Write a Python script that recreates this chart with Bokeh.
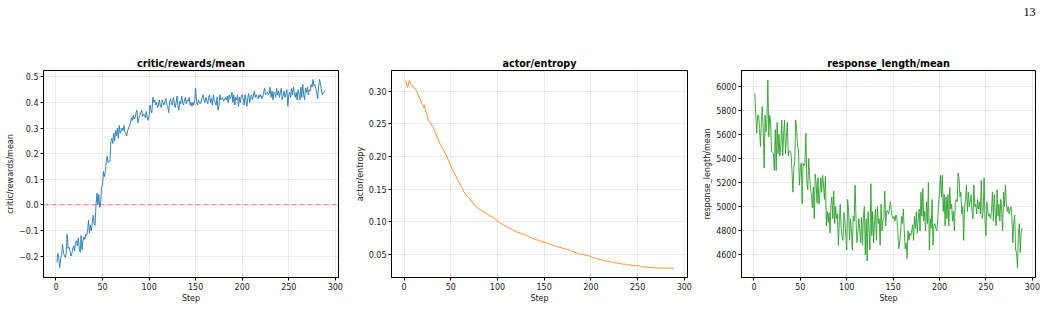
from bokeh.plotting import figure
from bokeh.layouts import row, column
from bokeh.models import Range1d, FixedTicker, Span
from bokeh.core.properties import value
from bokeh.embed import file_html
from bokeh.resources import INLINE

steps = list(range(1, 290))

rewards_mean = [
    -0.225, -0.19, -0.205, -0.245, -0.21, -0.195, -0.155, -0.185, -0.2, -0.205,
    -0.19, -0.115, -0.17, -0.165, -0.18, -0.2, -0.19, -0.17, -0.16, -0.18,
    -0.15, -0.14, -0.16, -0.13, -0.17, -0.185, -0.12, -0.175, -0.14, -0.125,
    -0.135, -0.115, -0.12, -0.1, -0.06, -0.11, -0.08, -0.1, -0.07, -0.04,
    -0.075, -0.08, 0.0, 0.045, 0.0, 0.04, -0.01, 0.01, 0.07, 0.075,
    0.13, 0.11, 0.13, 0.17, 0.19, 0.165, 0.17, 0.17, 0.25, 0.26,
    0.24, 0.28, 0.25, 0.29, 0.27, 0.3, 0.26, 0.31, 0.28, 0.29,
    0.3, 0.29, 0.31, 0.285, 0.28, 0.27, 0.29, 0.3, 0.31, 0.32,
    0.34, 0.33, 0.35, 0.335, 0.34, 0.36, 0.37, 0.32, 0.34, 0.35,
    0.36, 0.37, 0.345, 0.355, 0.35, 0.34, 0.365, 0.34, 0.33, 0.35,
    0.39, 0.37, 0.36, 0.42, 0.40, 0.41, 0.39, 0.40, 0.38, 0.39,
    0.41, 0.385, 0.38, 0.41, 0.40, 0.39, 0.405, 0.415, 0.39, 0.385,
    0.36, 0.40, 0.415, 0.395, 0.39, 0.42, 0.40, 0.38, 0.40, 0.425,
    0.385, 0.37, 0.405, 0.395, 0.425, 0.40, 0.39, 0.41, 0.42, 0.395,
    0.41, 0.405, 0.42, 0.39, 0.40, 0.385, 0.40, 0.39, 0.41, 0.455,
    0.40, 0.39, 0.41, 0.40, 0.395, 0.405, 0.42, 0.43, 0.41, 0.40,
    0.42, 0.405, 0.395, 0.42, 0.43, 0.40, 0.415, 0.39, 0.43, 0.41,
    0.40, 0.39, 0.42, 0.37, 0.385, 0.43, 0.41, 0.415, 0.42, 0.405,
    0.41, 0.42, 0.41, 0.425, 0.40, 0.43, 0.415, 0.42, 0.44, 0.40,
    0.43, 0.39, 0.42, 0.41, 0.43, 0.385, 0.42, 0.40, 0.425, 0.43,
    0.415, 0.39, 0.43, 0.41, 0.385, 0.42, 0.435, 0.40, 0.42, 0.43,
    0.41, 0.425, 0.445, 0.42, 0.43, 0.42, 0.415, 0.43, 0.42, 0.43,
    0.415, 0.42, 0.44, 0.455, 0.43, 0.435, 0.44, 0.43, 0.435, 0.46,
    0.42, 0.445, 0.41, 0.44, 0.435, 0.42, 0.455, 0.43, 0.445, 0.42,
    0.44, 0.455, 0.41, 0.43, 0.445, 0.42, 0.435, 0.45, 0.385, 0.43,
    0.44, 0.42, 0.455, 0.43, 0.46, 0.44, 0.42, 0.44, 0.41, 0.45,
    0.43, 0.41, 0.46, 0.42, 0.47, 0.43, 0.41, 0.455, 0.44, 0.46,
    0.43, 0.45, 0.445, 0.47, 0.46, 0.49, 0.465, 0.47, 0.455, 0.44,
    0.415, 0.46, 0.49, 0.475, 0.45, 0.43, 0.44, 0.44, 0.445,
]

actor_entropy = [
    0.316, 0.315, 0.309, 0.306, 0.313, 0.316, 0.311, 0.310, 0.308, 0.306,
    0.305, 0.303, 0.301, 0.298, 0.294, 0.291, 0.288, 0.285, 0.281, 0.279,
    0.275, 0.278, 0.270, 0.266, 0.262, 0.256, 0.253, 0.252, 0.250, 0.247,
    0.245, 0.242, 0.238, 0.235, 0.231, 0.227, 0.225, 0.221, 0.218, 0.215,
    0.212, 0.210, 0.208, 0.205, 0.202, 0.199, 0.196, 0.193, 0.189, 0.185,
    0.182, 0.180, 0.177, 0.174, 0.171, 0.168, 0.165, 0.163, 0.160, 0.157,
    0.154, 0.152, 0.149, 0.146, 0.144, 0.142, 0.140, 0.138, 0.137, 0.135,
    0.134, 0.132, 0.130, 0.128, 0.127, 0.125, 0.123, 0.122, 0.121, 0.120,
    0.119, 0.118, 0.117, 0.116, 0.115, 0.115, 0.114, 0.113, 0.112, 0.111,
    0.110, 0.109, 0.108, 0.108, 0.107, 0.106, 0.105, 0.104, 0.102, 0.101,
    0.100, 0.099, 0.098, 0.097, 0.097, 0.096, 0.095, 0.094, 0.093, 0.092,
    0.092, 0.091, 0.090, 0.090, 0.089, 0.088, 0.087, 0.086, 0.086, 0.085,
    0.084, 0.084, 0.083, 0.083, 0.082, 0.082, 0.081, 0.081, 0.080, 0.080,
    0.079, 0.078, 0.078, 0.077, 0.076, 0.076, 0.075, 0.074, 0.074, 0.073,
    0.073, 0.072, 0.072, 0.071, 0.071, 0.070, 0.070, 0.069, 0.069, 0.069,
    0.068, 0.068, 0.067, 0.067, 0.066, 0.066, 0.065, 0.065, 0.064, 0.064,
    0.063, 0.063, 0.062, 0.062, 0.061, 0.061, 0.061, 0.060, 0.060, 0.059,
    0.059, 0.059, 0.058, 0.058, 0.057, 0.057, 0.056, 0.056, 0.055, 0.055,
    0.054, 0.054, 0.053, 0.053, 0.052, 0.052, 0.051, 0.051, 0.050, 0.050,
    0.050, 0.050, 0.049, 0.049, 0.049, 0.048, 0.048, 0.048, 0.047, 0.047,
    0.046, 0.045, 0.045, 0.044, 0.044, 0.044, 0.043, 0.043, 0.043, 0.042,
    0.042, 0.041, 0.041, 0.041, 0.040, 0.040, 0.040, 0.039, 0.039, 0.039,
    0.038, 0.038, 0.038, 0.038, 0.037, 0.037, 0.037, 0.037, 0.036, 0.036,
    0.036, 0.036, 0.035, 0.035, 0.035, 0.035, 0.035, 0.034, 0.034, 0.034,
    0.034, 0.034, 0.033, 0.033, 0.033, 0.033, 0.033, 0.033, 0.032, 0.032,
    0.033, 0.032, 0.032, 0.031, 0.031, 0.031, 0.031, 0.031, 0.031, 0.030,
    0.030, 0.030, 0.030, 0.030, 0.030, 0.030, 0.029, 0.030, 0.029, 0.029,
    0.029, 0.029, 0.029, 0.029, 0.029, 0.029, 0.029, 0.029, 0.029, 0.029,
    0.029, 0.029, 0.029, 0.029, 0.029, 0.028, 0.029, 0.028, 0.028,
]

response_length_mean = [
    5940, 5760, 5610, 5760, 5760, 5650, 5500, 5700, 5830, 5650,
    5320, 5760, 5620, 5700, 6050, 5580, 5760, 5700, 5460, 5450,
    5440, 5300, 5640, 5300, 5700, 5440, 5600, 5420, 5520, 5720,
    5420, 5600, 5720, 5440, 5580, 5700, 5420, 5460, 5460, 5440,
    5300, 5120, 5320, 5380, 5720, 5640, 5500, 5480, 5180, 5320,
    5360, 5020, 5360, 5340, 5360, 5610, 5200, 5140, 5400, 5260,
    5140, 5100, 4990, 5160, 4900, 5270, 5200, 5030, 5240, 5020,
    5100, 5240, 5120, 5260, 5180, 5060, 5250, 4840, 4960, 4870,
    4950, 4780, 5020, 5080, 4900, 5130, 4860, 5000, 4900, 4940,
    4680, 4880, 5020, 4820, 4750, 4720, 4950, 4890, 4760, 4640,
    5060, 4960, 4720, 4900, 4800, 4640, 4920, 4880, 5180, 4900,
    4700, 4780, 4900, 4810, 4700, 4910, 4680, 4930, 5000, 4600,
    4900, 4550, 4960, 4800, 4640, 5190, 4760, 4960, 4700, 4880,
    4980, 4720, 5000, 4860, 4900, 4680, 5020, 4800, 4880, 4920,
    5130, 4840, 4960, 4970, 4940, 4980, 5040, 4960, 4920, 4900,
    4920, 4880, 4930, 4910, 4800, 4650, 4700, 4780, 4920, 4860,
    4980, 4800, 4650, 4700, 4570, 4800, 4720, 4780, 4760, 4800,
    4850, 4720, 4920, 4820, 4960, 4780, 4900, 4980, 4800, 5120,
    4920, 5150, 4880, 4960, 4800, 5040, 4860, 5200, 4640, 4900,
    4820, 5060, 4680, 4840, 4860, 4820, 4800, 4880, 5040, 5120,
    5260, 5080, 5260, 4960, 5100, 4840, 5080, 4900, 5100, 4840,
    5160, 4980, 5020, 4880, 4960, 4800, 5040, 5060, 5040, 5280,
    5240, 5080, 5120, 4940, 5000, 4720, 5000, 5060, 5180, 4960,
    5120, 5000, 5040, 5100, 4960, 4900, 5180, 5000, 5020, 4940,
    5060, 4980, 5040, 4940, 5220, 4900, 4960, 5240, 4880, 4760,
    5040, 4960, 4920, 4940, 4900, 4960, 5120, 4880, 5100, 4940,
    4840, 5140, 4920, 5020, 4880, 5060, 4960, 4800, 5120, 5000,
    5180, 5020, 4960, 5000, 4940, 4980, 5000, 4900, 4700, 4880,
    4930, 4640, 4620, 4490, 4780, 4860, 4620, 4790, 4820,
]

x_ticks = [0, 50, 100, 150, 200, 250, 300]
y1_ticks = [-0.2, -0.1, 0.0, 0.1, 0.2, 0.3, 0.4, 0.5]
y1_labels = ["\u22120.2", "\u22120.1", "0.0", "0.1", "0.2", "0.3", "0.4", "0.5"]
y2_ticks = [0.05, 0.10, 0.15, 0.20, 0.25, 0.30]
y2_labels = ["0.05", "0.10", "0.15", "0.20", "0.25", "0.30"]
y3_ticks = [4600, 4800, 5000, 5200, 5400, 5600, 5800, 6000]
y3_labels = ["4600", "4800", "5000", "5200", "5400", "5600", "5800", "6000"]

titles = ["critic/rewards/mean", "actor/entropy", "response_length/mean"]
colors = ["#1f77b4", "#ff7f0e", "#2ca02c"]
page_number = ["13"]

FONT = "DejaVu Sans"
TOP_H = 32


def make_panel(title, ys, color, yrange, yticks, ylabels, width, left, right):
    p = figure(width=width, height=309 - TOP_H, output_backend="svg", toolbar_location=None,
               x_range=Range1d(-13.4, 303.4), y_range=Range1d(*yrange),
               min_border_left=left, min_border_right=right,
               min_border_top=70 - TOP_H, min_border_bottom=32)
    p.title.text = title
    p.title.text_font = FONT
    p.title.text_font_size = "9.6px"
    p.title.text_font_style = "bold"
    p.title.align = "center"
    p.title.text_color = "black"
    p.title.standoff = 4
    p.outline_line_color = "black"
    p.outline_line_width = 1
    p.background_fill_color = "white"
    p.border_fill_color = "white"
    p.xaxis.ticker = FixedTicker(ticks=x_ticks)
    p.yaxis.ticker = FixedTicker(ticks=yticks)
    p.yaxis.major_label_overrides = {t: l for t, l in zip(yticks, ylabels)}
    p.xaxis.axis_label = "Step"
    p.yaxis.axis_label = title
    for ax in (p.xaxis, p.yaxis):
        ax.axis_label_text_font = FONT
        ax.axis_label_text_font_size = "8px"
        ax.axis_label_text_font_style = "normal"
        ax.axis_label_text_color = "#222222"
        ax.major_label_text_font = FONT
        ax.major_label_text_font_size = "8px"
        ax.major_label_text_color = "#222222"
        ax.axis_line_color = "black"
        ax.major_tick_line_color = "black"
        ax.major_tick_out = 3
        ax.major_tick_in = 0
        ax.minor_tick_line_color = None
        ax.major_label_standoff = 2
        ax.axis_label_standoff = 1
    p.grid.grid_line_color = "#b0b0b0"
    p.grid.grid_line_alpha = 0.3
    p.grid.grid_line_width = 0.8
    p.line(steps, ys, line_color=color, line_width=0.9)
    return p


# page header strip holding the page number
top = figure(width=1051, height=TOP_H, output_backend="svg", toolbar_location=None,
             x_range=Range1d(0, 1051), y_range=Range1d(0, TOP_H),
             min_border=0, outline_line_color=None)
top.axis.visible = False
top.grid.visible = False
top.text(x=[1029], y=[TOP_H - 11], text=page_number, text_font=value("Liberation Serif"),
         text_font_size="12px", text_align="center", text_baseline="middle",
         text_color="black")

p1 = make_panel(titles[0], rewards_mean, colors[0], (-0.284, 0.525), y1_ticks, y1_labels, 350, 43, 12)
zero = Span(location=0, dimension="width", line_color="red", line_alpha=0.5,
            line_dash="5 3", line_width=1)
p1.add_layout(zero)
p2 = make_panel(titles[1], actor_entropy, colors[1], (0.0146, 0.3314), y2_ticks, y2_labels, 350, 41, 13)
p3 = make_panel(titles[2], response_length_mean, colors[2], (4412, 6130), y3_ticks, y3_labels, 351, 39, 16)

layout = column(top, row(p1, p2, p3, spacing=0), spacing=0)
open("out.html", "w").write(file_html(layout, INLINE))
